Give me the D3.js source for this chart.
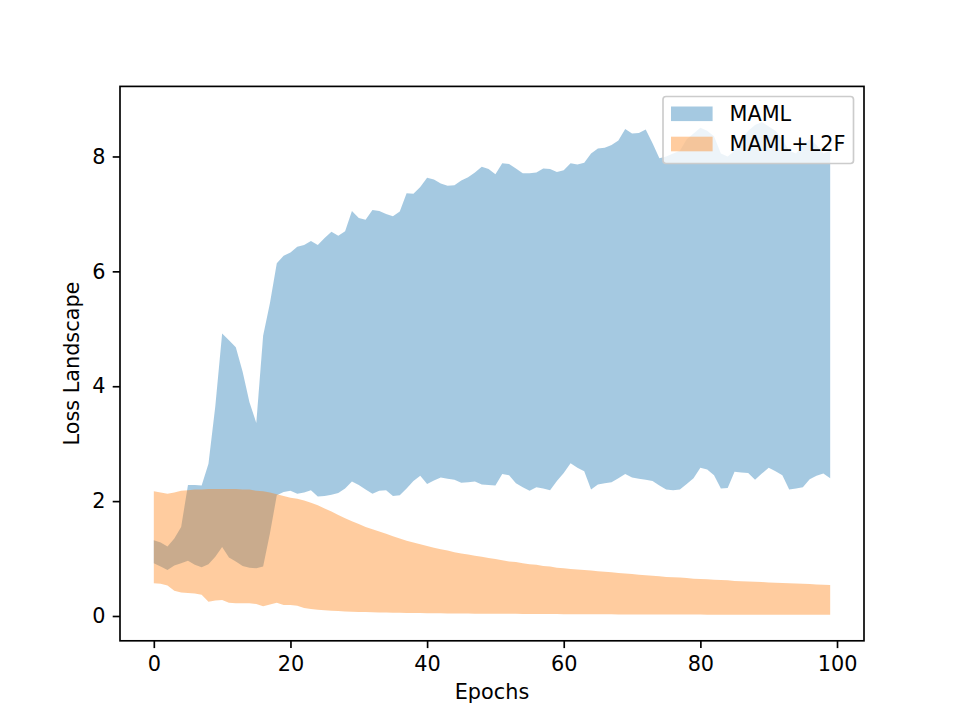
<!DOCTYPE html>
<html>
<head>
<meta charset="utf-8">
<script src="https://cdn.jsdelivr.net/npm/d3@7"></script>
<style>
  html, body { margin: 0; padding: 0; background: #fff; }
  svg { display: block; }
  text { font-family: "DejaVu Sans", sans-serif; }
</style>
</head>
<body>
<svg id="chart" width="960" height="720"></svg>
<script>
// ---- data ----
const epochs = d3.range(0, 100);

const mamlUpper = [
  1.32, 1.28, 1.21, 1.35, 1.55, 2.28, 2.28, 2.27, 2.65, 3.65,
  4.92, 4.80, 4.68, 4.25, 3.72, 3.36, 4.88, 5.45, 6.14, 6.27,
  6.33, 6.43, 6.46, 6.53, 6.46, 6.58, 6.69, 6.62, 6.70, 7.05,
  6.93, 6.90, 7.07, 7.05, 7.00, 6.96, 7.04, 7.36, 7.35, 7.47,
  7.63, 7.60, 7.53, 7.49, 7.50, 7.58, 7.64, 7.72, 7.82, 7.78,
  7.69, 7.88, 7.87, 7.79, 7.71, 7.71, 7.72, 7.79, 7.78, 7.73,
  7.76, 7.88, 7.86, 7.89, 8.05, 8.14, 8.15, 8.20, 8.28, 8.48,
  8.40, 8.41, 8.47, 8.23, 7.97, 8.00, 8.05, 8.10, 8.30, 8.40,
  8.50, 8.45, 8.35, 8.05, 8.00, 8.10, 8.30, 8.45, 8.55, 8.60,
  8.52, 8.45, 8.30, 8.10, 8.05, 8.20, 8.30, 8.20, 8.05, 8.10
];

const mamlLower = [
  0.92, 0.86, 0.80, 0.88, 0.92, 0.96, 0.89, 0.85, 0.90, 1.03,
  1.20, 1.02, 0.95, 0.87, 0.84, 0.83, 0.86, 1.44, 2.10, 2.16,
  2.18, 2.13, 2.15, 2.19, 2.08, 2.09, 2.11, 2.14, 2.22, 2.34,
  2.28, 2.20, 2.13, 2.18, 2.19, 2.09, 2.10, 2.22, 2.35, 2.44,
  2.30, 2.36, 2.41, 2.39, 2.37, 2.32, 2.33, 2.34, 2.29, 2.28,
  2.27, 2.47, 2.45, 2.31, 2.24, 2.18, 2.24, 2.22, 2.19, 2.35,
  2.49, 2.66, 2.58, 2.52, 2.20, 2.29, 2.31, 2.33, 2.40, 2.47,
  2.41, 2.39, 2.37, 2.35, 2.27, 2.20, 2.19, 2.20, 2.30, 2.40,
  2.58, 2.55, 2.45, 2.22, 2.23, 2.51, 2.50, 2.49, 2.37, 2.48,
  2.58, 2.52, 2.45, 2.20, 2.22, 2.24, 2.38, 2.44, 2.48, 2.40
];

const l2fUpper = [
  2.17, 2.15, 2.13, 2.15, 2.18, 2.19, 2.20, 2.20, 2.21, 2.21,
  2.21, 2.21, 2.21, 2.20, 2.20, 2.18, 2.17, 2.15, 2.12, 2.09,
  2.06, 2.04, 2.01, 1.97, 1.93, 1.87, 1.82, 1.76, 1.70, 1.65,
  1.60, 1.55, 1.51, 1.47, 1.43, 1.39, 1.35, 1.31, 1.28, 1.25,
  1.22, 1.19, 1.16, 1.14, 1.11, 1.09, 1.07, 1.05, 1.03, 1.01,
  0.99, 0.97, 0.95, 0.94, 0.92, 0.90, 0.89, 0.87, 0.86, 0.84,
  0.83, 0.82, 0.81, 0.80, 0.79, 0.78, 0.77, 0.76, 0.75, 0.74,
  0.73, 0.72, 0.71, 0.70, 0.69, 0.68, 0.675, 0.67, 0.66, 0.65,
  0.645, 0.64, 0.63, 0.625, 0.62, 0.61, 0.605, 0.60, 0.595, 0.59,
  0.585, 0.58, 0.575, 0.57, 0.565, 0.56, 0.555, 0.55, 0.545, 0.54
];

const l2fLower = [
  0.57, 0.56, 0.53, 0.44, 0.41, 0.40, 0.39, 0.37, 0.25, 0.27,
  0.28, 0.23, 0.22, 0.22, 0.22, 0.21, 0.17, 0.20, 0.23, 0.19,
  0.19, 0.18, 0.14, 0.12, 0.11, 0.10, 0.09, 0.085, 0.08, 0.075,
  0.07, 0.068, 0.065, 0.062, 0.06, 0.058, 0.056, 0.054, 0.052, 0.05,
  0.048, 0.047, 0.046, 0.045, 0.044, 0.043, 0.042, 0.041, 0.040, 0.040,
  0.039, 0.038, 0.037, 0.037, 0.036, 0.035, 0.035, 0.034, 0.033, 0.033,
  0.032, 0.032, 0.031, 0.031, 0.030, 0.030, 0.029, 0.029, 0.028, 0.028,
  0.027, 0.027, 0.026, 0.026, 0.026, 0.025, 0.025, 0.025, 0.024, 0.024,
  0.024, 0.023, 0.023, 0.023, 0.022, 0.022, 0.022, 0.022, 0.021, 0.021,
  0.021, 0.021, 0.020, 0.020, 0.020, 0.020, 0.020, 0.020, 0.020, 0.020
];

const seriesNames = ["MAML", "MAML+L2F"];
const seriesColors = ["#1f77b4", "#ff7f0e"];
const xTicks = [0, 20, 40, 60, 80, 100];
const yTicks = [0, 2, 4, 6, 8];
const xLabel = "Epochs";
const yLabel = "Loss Landscape";

// ---- layout ----
const M = { left: 120, right: 864, top: 86.4, bottom: 640.8 };
const fs = 20.8;          // 10pt @150dpi
const lw = 1.67;          // 0.8pt
const tickLen = 7.3;
const pad = 7.3;

const svg = d3.select("#chart");

const x = d3.scaleLinear().domain([-4.95, 103.95]).range([M.left, M.right]);
const y = d3.scaleLinear().domain([-0.432, 9.22]).range([M.bottom, M.top]);

const series = [
  { name: seriesNames[0], color: seriesColors[0], lo: mamlLower, hi: mamlUpper },
  { name: seriesNames[1], color: seriesColors[1], lo: l2fLower, hi: l2fUpper }
];

const makeArea = (s) => d3.area()
  .x((d, i) => x(epochs[i]))
  .y0((d, i) => y(s.lo[i]))
  .y1((d, i) => y(s.hi[i]));

const g = svg.append("g");
series.forEach(s => {
  g.append("path")
    .datum(epochs)
    .attr("d", makeArea(s))
    .attr("fill", s.color)
    .attr("fill-opacity", 0.4)
    .attr("stroke", "none");
});

// axes
const xAxis = d3.axisBottom(x).tickValues(xTicks).tickSize(tickLen).tickPadding(pad).tickSizeOuter(0);
const yAxis = d3.axisLeft(y).tickValues(yTicks).tickSize(tickLen).tickPadding(pad).tickSizeOuter(0);

const gx = svg.append("g").attr("transform", `translate(0,${M.bottom})`).call(xAxis);
const gy = svg.append("g").attr("transform", `translate(${M.left},0)`).call(yAxis);
[gx, gy].forEach(ga => {
  ga.select(".domain").remove();
  ga.selectAll(".tick line").attr("stroke", "#000").attr("stroke-width", lw);
  ga.selectAll(".tick text").attr("fill", "#000").attr("font-size", fs)
    .attr("font-family", "DejaVu Sans, sans-serif");
});
gx.selectAll(".tick text").attr("dy", "0.76em");

// frame
svg.append("rect")
  .attr("x", M.left).attr("y", M.top)
  .attr("width", M.right - M.left).attr("height", M.bottom - M.top)
  .attr("fill", "none").attr("stroke", "#000").attr("stroke-width", lw);

// labels
svg.append("text")
  .attr("x", (M.left + M.right) / 2).attr("y", 699)
  .attr("text-anchor", "middle").attr("font-size", fs).text(xLabel);
svg.append("text")
  .attr("transform", `translate(79,${(M.top + M.bottom) / 2}) rotate(-90)`)
  .attr("text-anchor", "middle").attr("font-size", fs).text(yLabel);

// legend
const lg = svg.append("g");
lg.append("rect")
  .attr("x", 663).attr("y", 96.5).attr("width", 190.5).attr("height", 67)
  .attr("rx", 3).attr("ry", 3)
  .attr("fill", "#fff").attr("fill-opacity", 0.8)
  .attr("stroke", "#cccccc").attr("stroke-width", lw);
series.forEach((s, i) => {
  const cy = 113.8 + i * 30.2;
  lg.append("rect")
    .attr("x", 671).attr("y", cy - 7.3).attr("width", 41.6).attr("height", 14.6)
    .attr("fill", s.color).attr("fill-opacity", 0.4);
  lg.append("text")
    .attr("x", 729.5).attr("y", cy).attr("dy", "0.36em")
    .attr("font-size", fs).attr("fill", "#000").text(s.name);
});
</script>
</body>
</html>
